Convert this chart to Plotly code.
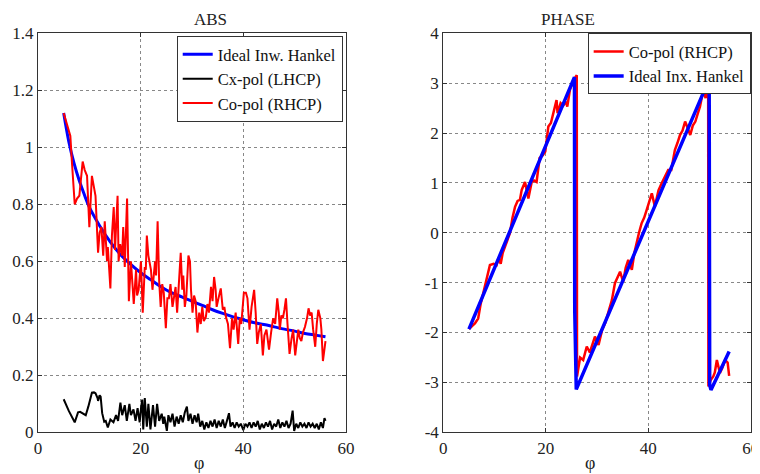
import plotly.graph_objects as go

# ABS panel: Co-pol (RHCP) measured magnitude
abs_co_phi = [5.0, 5.6, 6.3, 6.6, 7.15, 7.6, 8.05, 8.7, 9.1, 9.55, 10.0, 10.5, 10.8, 11.2, 11.7, 12.0,
              12.35, 12.7, 13.0, 13.45, 13.6, 14.1, 14.4, 14.75, 15.0, 15.2, 15.5, 15.7, 16.0, 16.4,
              16.6, 16.9, 17.35, 17.7, 18.1, 18.4, 18.65, 19.1, 19.3, 19.6, 20.05, 20.4, 20.8, 21.0,
              21.2, 21.5, 22.0, 22.3, 22.8, 23.0, 23.3, 23.6, 23.9, 24.2, 24.5, 24.9, 25.2, 25.5,
              25.8, 26.2, 26.5, 26.8, 27.1, 27.4, 27.8, 28.1, 28.3, 28.6, 28.9, 29.3, 29.6, 29.8,
              30.1, 30.4, 30.7, 31.05, 31.4, 31.7, 32.0, 32.3, 32.7, 33.0, 33.3, 33.7, 34.0, 34.3,
              34.6, 34.8, 35.1, 35.4, 35.6, 36.0, 36.3, 36.6, 37.0, 37.4, 37.8, 38.1, 38.5, 39.0,
              39.3, 39.6, 40.1, 40.5, 40.8, 41.2, 41.6, 42.1, 42.4, 42.7, 43.0, 43.4, 43.8, 44.1,
              44.5, 44.8, 45.0, 45.4, 45.8, 46.2, 46.6, 46.9, 47.1, 47.4, 47.7, 48.0, 48.3, 48.6,
              49.0, 49.4, 49.7, 50.1, 50.4, 50.7, 51.0, 51.3, 51.6, 52.0, 52.4, 52.7, 53.0, 53.3,
              53.6, 54.0, 54.3, 54.6, 55.0, 55.2, 55.5, 55.8, 56.0]
abs_co_val = [1.12, 1.08, 1.04, 0.95, 0.80, 0.82, 0.83, 0.95, 0.92, 0.90, 0.72, 0.90, 0.87, 0.83, 0.63, 0.70,
              0.72, 0.62, 0.74, 0.60, 0.65, 0.505, 0.69, 0.79, 0.64, 0.72, 0.83, 0.60, 0.66, 0.62,
              0.72, 0.58, 0.82, 0.46, 0.60, 0.52, 0.45, 0.57, 0.48, 0.50, 0.60, 0.42, 0.58, 0.57,
              0.69, 0.62, 0.57, 0.50, 0.60, 0.55, 0.74, 0.53, 0.44, 0.52, 0.49, 0.365, 0.47, 0.47,
              0.52, 0.44, 0.48, 0.51, 0.42, 0.50, 0.63, 0.50, 0.55, 0.44, 0.48, 0.62, 0.60, 0.50,
              0.42, 0.48, 0.46, 0.35, 0.42, 0.38, 0.44, 0.39, 0.405, 0.45, 0.42, 0.51, 0.46, 0.545,
              0.50, 0.44, 0.47, 0.49, 0.505, 0.43, 0.44, 0.405, 0.38, 0.295, 0.40, 0.36, 0.42, 0.31,
              0.40, 0.38, 0.49, 0.49, 0.47, 0.36, 0.44, 0.50, 0.42, 0.31, 0.35, 0.38, 0.27, 0.34,
              0.36, 0.31, 0.29, 0.35, 0.40, 0.38, 0.47, 0.42, 0.36, 0.41, 0.40, 0.43, 0.47, 0.38,
              0.275, 0.33, 0.36, 0.27, 0.32, 0.36, 0.33, 0.32, 0.35, 0.37, 0.40, 0.435, 0.41, 0.42,
              0.36, 0.30, 0.38, 0.43, 0.40, 0.36, 0.25, 0.30, 0.32]

# ABS panel: ideal inverse Hankel
abs_ideal_phi = [5, 6, 7, 8, 9, 10, 12, 14, 16, 18, 20, 22, 24, 26, 28, 30, 32, 34, 36, 38, 40,
                 42, 44, 46, 48, 50, 52, 54, 56]
abs_ideal_val = [1.12, 1.02, 0.945, 0.885, 0.835, 0.79, 0.725, 0.67, 0.625, 0.59, 0.56, 0.535,
                 0.51, 0.49, 0.475, 0.46, 0.445, 0.43, 0.417, 0.405, 0.395, 0.385, 0.378, 0.37,
                 0.362, 0.355, 0.347, 0.341, 0.335]

# ABS panel: Cx-pol (LHCP)
abs_cx_phi = [5.0, 6.0, 7.15, 7.8, 8.2, 8.9, 9.3, 9.8, 10.3, 10.5, 10.9, 11.2, 11.6, 11.7, 12.0, 12.2,
              12.5, 12.9, 13.2, 13.6, 14.1, 14.4, 14.7, 15.2, 15.6, 16.05, 16.4, 16.9, 17.3, 17.8,
              18.1, 18.6, 19.0, 19.4, 19.8, 20.1, 20.3, 20.5, 20.8, 21.2, 21.5, 21.9, 22.4, 22.8,
              23.2, 23.6, 24.1, 24.4, 24.6, 25.1, 25.4, 25.8, 26.2, 26.6, 27.0, 27.4, 27.8, 28.2,
              28.6, 29.0, 29.3, 29.7, 30.1, 30.5, 30.9, 31.2, 31.6, 32.0, 32.4, 32.8, 33.2, 33.6,
              34.0, 34.4, 34.8, 35.2, 35.6, 36.0, 36.4, 36.8, 37.2, 37.5, 37.9, 38.3, 38.7, 39.1,
              39.5, 40.0, 40.4, 40.8, 41.2, 41.6, 42.0, 42.4, 42.8, 43.2, 43.6, 44.0, 44.4, 44.8,
              45.2, 45.6, 46.0, 46.4, 46.8, 47.2, 47.6, 48.0, 48.4, 48.8, 49.2, 49.6, 49.9, 50.3,
              50.7, 51.1, 51.5, 51.9, 52.3, 52.7, 53.1, 53.5, 53.9, 54.3, 54.7, 55.1, 55.5, 55.8, 56.0]
abs_cx_val = [0.116, 0.075, 0.035, 0.07, 0.072, 0.066, 0.06, 0.09, 0.125, 0.139, 0.14, 0.137, 0.12, 0.11,
              0.13, 0.125, 0.067, 0.037, 0.04, 0.017, 0.045, 0.04, 0.035, 0.06, 0.04, 0.104, 0.06,
              0.095, 0.04, 0.1, 0.06, 0.08, 0.04, 0.085, 0.035, 0.09, 0.115, 0.01, 0.12, 0.02, 0.10,
              0.01, 0.095, 0.02, 0.1, 0.04, 0.065, 0.03, 0.055, 0.005, 0.06, 0.035, 0.065, 0.02,
              0.055, 0.03, 0.06, 0.035, 0.07, 0.09, 0.04, 0.065, 0.03, 0.06, 0.035, 0.065, 0.02,
              0.04, 0.01, 0.035, 0.015, 0.04, 0.02, 0.045, 0.015, 0.04, 0.02, 0.045, 0.015, 0.04,
              0.067, 0.02, 0.035, 0.015, 0.035, 0.02, 0.03, 0.008, 0.03, 0.02, 0.035, 0.015, 0.035,
              0.02, 0.04, 0.01, 0.03, 0.015, 0.035, 0.02, 0.04, 0.01, 0.03, 0.02, 0.045, 0.015,
              0.035, 0.02, 0.04, 0.015, 0.03, 0.076, 0.005, 0.03, 0.015, 0.035, 0.02, 0.03, 0.015,
              0.035, 0.02, 0.03, 0.015, 0.03, 0.01, 0.035, 0.015, 0.05, 0.04]

# PHASE panel: Co-pol (RHCP)
ph_co_phi = [5.0, 5.5, 6.2, 6.8, 7.3, 7.8, 8.4, 9.1, 9.8, 10.4, 10.8, 11.2, 11.6, 12.2, 13.0, 13.5,
             14.0, 14.5, 14.95, 15.3, 15.95, 16.6, 17.25, 17.7, 18.2, 18.8, 19.4, 19.9, 20.5, 21.0,
             21.5, 22.1, 22.3, 22.9, 23.4, 23.95, 24.2, 24.7, 25.4, 25.9, 26.05, 26.1, 26.7,
             27.3, 28.0, 28.6, 29.6, 30.3, 31.0, 31.6, 32.3, 32.9, 33.5, 34.0, 34.5, 35.1, 35.6,
             36.1, 36.8, 37.3, 37.75, 38.2, 38.7, 39.2, 39.7, 40.2, 40.7, 41.3, 42.0, 42.6, 43.2,
             43.9, 44.5, 45.2, 45.7, 46.2, 46.7, 47.2, 47.7, 48.2, 48.7, 49.2, 49.7, 50.1, 50.75,
             51.2, 51.7, 51.75, 52.2, 52.7, 53.0, 53.4, 54.0, 54.5, 55.0, 55.5, 55.8]
ph_co_val = [-1.93, -1.88, -1.81, -1.72, -1.42, -1.21, -0.95, -0.645, -0.62, -0.645, -0.50, -0.62, -0.40,
             -0.22, -0.01, 0.30, 0.52, 0.64, 0.66, 0.86, 1.02, 0.69, 1.02, 1.05, 1.02, 1.5, 1.55,
             1.63, 2.13, 2.2, 2.39, 2.66, 2.4, 2.6, 2.55, 2.63, 2.53, 2.86, 3.06, 3.16, 3.16,
             -2.88, -2.5, -2.55, -2.28, -2.40, -2.08, -2.25, -1.95, -1.81, -1.55, -1.35, -1.01,
             -0.90, -0.78, -0.98, -0.70, -0.545, -0.74, -0.40, -0.18, 0.0, 0.19, 0.30, 0.46, 0.65,
             0.79, 0.53, 0.85, 0.99, 1.12, 1.26, 1.26, 1.66, 1.8, 1.96, 2.05, 2.23, 2.1, 1.96,
             2.15, 2.23, 2.40, 2.53, 2.86, 2.70, 2.99, -3.08, -2.95, -2.88, -2.8, -2.55, -2.81,
             -2.7, -2.55, -2.6, -2.87]

# PHASE panel: ideal inverse Hankel (wrapped)
ph_ideal_phi = [5.0, 25.6, 25.65, 25.95, 51.9, 52.0, 52.25, 55.8]
ph_ideal_val = [-1.93, 3.12, -1.55, -3.14, 3.08, -3.05, -3.15, -2.38]

serif = "Liberation Serif, Times New Roman, Times, serif"

fig = go.Figure()
fig.add_trace(go.Scatter(x=abs_ideal_phi, y=abs_ideal_val, mode="lines", name="Ideal Inw. Hankel",
                         line=dict(color="#0000ff", width=3, shape="spline"), legend="legend"))
fig.add_trace(go.Scatter(x=abs_cx_phi, y=abs_cx_val, mode="lines", name="Cx-pol (LHCP)",
                         line=dict(color="#000000", width=2), legend="legend"))
fig.add_trace(go.Scatter(x=abs_co_phi, y=abs_co_val, mode="lines", name="Co-pol (RHCP)",
                         line=dict(color="#ff0000", width=2), legend="legend"))
fig.add_trace(go.Scatter(x=ph_co_phi, y=ph_co_val, mode="lines", name="Co-pol (RHCP)",
                         line=dict(color="#ff0000", width=2.5), xaxis="x2", yaxis="y2", legend="legend2"))
fig.add_trace(go.Scatter(x=ph_ideal_phi, y=ph_ideal_val, mode="lines", name="Ideal Inx. Hankel",
                         line=dict(color="#0000ff", width=3.5), xaxis="x2", yaxis="y2", legend="legend2"))

axis_style = dict(showline=True, linecolor="#333333", linewidth=1.2, mirror="ticks",
                  ticks="inside", ticklen=4, tickcolor="#333333", automargin=False,
                  showgrid=True, gridcolor="#888888", griddash="dot", gridwidth=1,
                  zeroline=False, tickfont=dict(family=serif, size=17, color="#222222"))

# the page body adds an 8px margin, so the figure is 752x466 and laid out for that
fig.update_layout(
    template="none",
    width=752, height=466,
    margin=dict(l=0, r=0, t=0, b=0, pad=0),
    paper_bgcolor="white", plot_bgcolor="white",
    font=dict(family=serif, size=17, color="#222222"),
    xaxis=dict(domain=[0.0399, 0.4495], range=[0, 60], tickvals=[0, 20, 40, 60], **axis_style),
    yaxis=dict(domain=[0.0895, 0.9457], range=[0, 1.4], tickvals=[0, 0.2, 0.4, 0.6, 0.8, 1, 1.2, 1.4],
               **axis_style),
    xaxis2=dict(domain=[0.5789, 0.9876], range=[0, 60], tickvals=[0, 20, 40, 60], anchor="y2",
                **axis_style),
    yaxis2=dict(domain=[0.0895, 0.9457], range=[-4, 4], anchor="x2",
                tickvals=[-4, -3, -2, -1, 0, 1, 2, 3, 4],
                ticktext=["-4", "-3", "-2", "-1", "0", "1", "2", "3", "4"], **axis_style),
    legend=dict(x=0.4451, y=0.94, xanchor="right", yanchor="top", bgcolor="white",
                bordercolor="#333333", borderwidth=1, font=dict(family=serif, size=16.5, color="#111111"),
                itemwidth=30, tracegroupgap=0),
    legend2=dict(x=0.9876, y=0.9457, xanchor="right", yanchor="top", bgcolor="white",
                 bordercolor="#333333", borderwidth=1, font=dict(family=serif, size=16.5, color="#111111"),
                 itemwidth=30, tracegroupgap=0),
    annotations=[
        dict(text="ABS", x=0.2447, y=1.0, xref="paper", yref="paper", showarrow=False,
             yanchor="top", font=dict(family=serif, size=17, color="#222222")),
        dict(text="PHASE", x=0.7832, y=1.0, xref="paper", yref="paper", showarrow=False,
             yanchor="top", font=dict(family=serif, size=17, color="#222222")),
        dict(text="φ", x=0.2447, y=0.0236, xref="paper", yref="paper", showarrow=False,
             yanchor="middle", font=dict(family=serif, size=18, color="#222222")),
        dict(text="φ", x=0.7832, y=0.0236, xref="paper", yref="paper", showarrow=False,
             yanchor="middle", font=dict(family=serif, size=18, color="#222222")),
    ],
)

fig.write_html("out.html")
